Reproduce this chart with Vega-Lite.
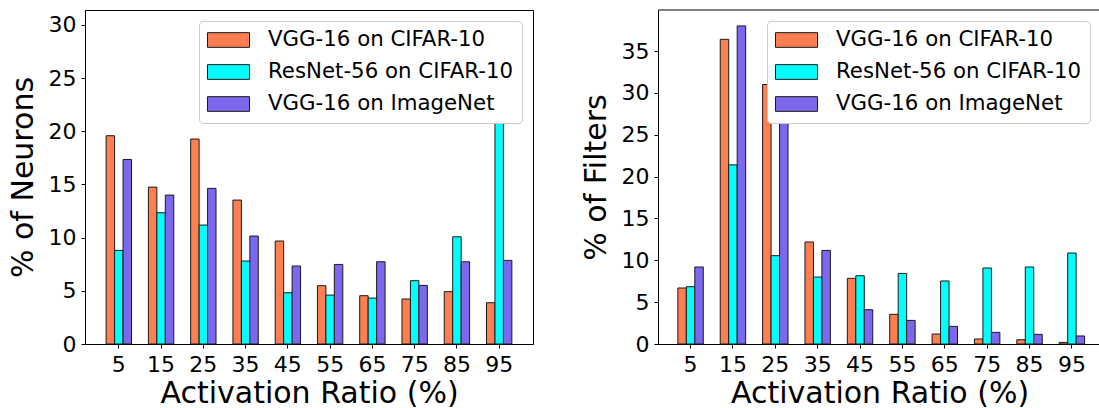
{
  "$schema": "https://vega.github.io/schema/vega-lite/v6.json",
  "padding": {"left": 7, "top": 9, "right": 0, "bottom": 0},
  "spacing": 47,
  "background": "white",
  "datasets": {
    "neurons": [
      {"ratio": 5, "model": "VGG-16 on CIFAR-10", "value": 19.58},
      {"ratio": 5, "model": "ResNet-56 on CIFAR-10", "value": 8.8},
      {"ratio": 5, "model": "VGG-16 on ImageNet", "value": 17.35},
      {"ratio": 15, "model": "VGG-16 on CIFAR-10", "value": 14.75},
      {"ratio": 15, "model": "ResNet-56 on CIFAR-10", "value": 12.34},
      {"ratio": 15, "model": "VGG-16 on ImageNet", "value": 14.0},
      {"ratio": 25, "model": "VGG-16 on CIFAR-10", "value": 19.27},
      {"ratio": 25, "model": "ResNet-56 on CIFAR-10", "value": 11.18},
      {"ratio": 25, "model": "VGG-16 on ImageNet", "value": 14.63},
      {"ratio": 35, "model": "VGG-16 on CIFAR-10", "value": 13.53},
      {"ratio": 35, "model": "ResNet-56 on CIFAR-10", "value": 7.8},
      {"ratio": 35, "model": "VGG-16 on ImageNet", "value": 10.15},
      {"ratio": 45, "model": "VGG-16 on CIFAR-10", "value": 9.68},
      {"ratio": 45, "model": "ResNet-56 on CIFAR-10", "value": 4.82},
      {"ratio": 45, "model": "VGG-16 on ImageNet", "value": 7.33},
      {"ratio": 55, "model": "VGG-16 on CIFAR-10", "value": 5.48},
      {"ratio": 55, "model": "ResNet-56 on CIFAR-10", "value": 4.6},
      {"ratio": 55, "model": "VGG-16 on ImageNet", "value": 7.48},
      {"ratio": 65, "model": "VGG-16 on CIFAR-10", "value": 4.54},
      {"ratio": 65, "model": "ResNet-56 on CIFAR-10", "value": 4.32},
      {"ratio": 65, "model": "VGG-16 on ImageNet", "value": 7.73},
      {"ratio": 75, "model": "VGG-16 on CIFAR-10", "value": 4.23},
      {"ratio": 75, "model": "ResNet-56 on CIFAR-10", "value": 5.95},
      {"ratio": 75, "model": "VGG-16 on ImageNet", "value": 5.51},
      {"ratio": 85, "model": "VGG-16 on CIFAR-10", "value": 4.92},
      {"ratio": 85, "model": "ResNet-56 on CIFAR-10", "value": 10.08},
      {"ratio": 85, "model": "VGG-16 on ImageNet", "value": 7.73},
      {"ratio": 95, "model": "VGG-16 on CIFAR-10", "value": 3.88},
      {"ratio": 95, "model": "ResNet-56 on CIFAR-10", "value": 29.9},
      {"ratio": 95, "model": "VGG-16 on ImageNet", "value": 7.86}
    ],
    "filters": [
      {"ratio": 5, "model": "VGG-16 on CIFAR-10", "value": 6.69},
      {"ratio": 5, "model": "ResNet-56 on CIFAR-10", "value": 6.85},
      {"ratio": 5, "model": "VGG-16 on ImageNet", "value": 9.2},
      {"ratio": 15, "model": "VGG-16 on CIFAR-10", "value": 36.4},
      {"ratio": 15, "model": "ResNet-56 on CIFAR-10", "value": 21.4},
      {"ratio": 15, "model": "VGG-16 on ImageNet", "value": 38.0},
      {"ratio": 25, "model": "VGG-16 on CIFAR-10", "value": 31.0},
      {"ratio": 25, "model": "ResNet-56 on CIFAR-10", "value": 10.55},
      {"ratio": 25, "model": "VGG-16 on ImageNet", "value": 29.1},
      {"ratio": 35, "model": "VGG-16 on CIFAR-10", "value": 12.19},
      {"ratio": 35, "model": "ResNet-56 on CIFAR-10", "value": 8.0},
      {"ratio": 35, "model": "VGG-16 on ImageNet", "value": 11.18},
      {"ratio": 45, "model": "VGG-16 on CIFAR-10", "value": 7.84},
      {"ratio": 45, "model": "ResNet-56 on CIFAR-10", "value": 8.16},
      {"ratio": 45, "model": "VGG-16 on ImageNet", "value": 4.1},
      {"ratio": 55, "model": "VGG-16 on CIFAR-10", "value": 3.54},
      {"ratio": 55, "model": "ResNet-56 on CIFAR-10", "value": 8.43},
      {"ratio": 55, "model": "VGG-16 on ImageNet", "value": 2.82},
      {"ratio": 65, "model": "VGG-16 on CIFAR-10", "value": 1.19},
      {"ratio": 65, "model": "ResNet-56 on CIFAR-10", "value": 7.53},
      {"ratio": 65, "model": "VGG-16 on ImageNet", "value": 2.1},
      {"ratio": 75, "model": "VGG-16 on CIFAR-10", "value": 0.6},
      {"ratio": 75, "model": "ResNet-56 on CIFAR-10", "value": 9.08},
      {"ratio": 75, "model": "VGG-16 on ImageNet", "value": 1.39},
      {"ratio": 85, "model": "VGG-16 on CIFAR-10", "value": 0.51},
      {"ratio": 85, "model": "ResNet-56 on CIFAR-10", "value": 9.2},
      {"ratio": 85, "model": "VGG-16 on ImageNet", "value": 1.15},
      {"ratio": 95, "model": "VGG-16 on CIFAR-10", "value": 0.19},
      {"ratio": 95, "model": "ResNet-56 on CIFAR-10", "value": 10.87},
      {"ratio": 95, "model": "VGG-16 on ImageNet", "value": 0.96}
    ]
  },
  "hconcat": [
    {
      "data": {"name": "neurons"},
      "width": 448,
      "height": 334,
      "mark": {"type": "bar", "stroke": "#1a1a1a", "strokeWidth": 1},
      "encoding": {
        "x": {"field": "ratio", "type": "ordinal", "title": "Activation Ratio (%)",
              "scale": {"paddingInner": 0.4, "paddingOuter": 0.5}},
        "xOffset": {"field": "model", "type": "nominal",
                    "sort": ["VGG-16 on CIFAR-10", "ResNet-56 on CIFAR-10", "VGG-16 on ImageNet"]},
        "y": {"field": "value", "type": "quantitative", "title": "% of Neurons",
              "scale": {"domain": [0, 31.4], "nice": false, "zero": true},
              "axis": {"values": [0, 5, 10, 15, 20, 25, 30]}},
        "color": {"field": "model", "type": "nominal",
                  "scale": {"domain": ["VGG-16 on CIFAR-10", "ResNet-56 on CIFAR-10", "VGG-16 on ImageNet"],
                            "range": ["#FF7F50", "#00FFFF", "#7B68EE"]},
                  "legend": {"title": null}}
      }
    },
    {
      "width": 443,
      "height": 334,
      "view": {"stroke": null},
      "layer": [
        {
          "data": {"name": "filters"},
          "mark": {"type": "bar", "stroke": "#1a1a1a", "strokeWidth": 1},
          "encoding": {
            "x": {"field": "ratio", "type": "ordinal", "title": "Activation Ratio (%)",
                  "scale": {"paddingInner": 0.4, "paddingOuter": 0.4276, "align": 0.548}},
            "xOffset": {"field": "model", "type": "nominal",
                        "sort": ["VGG-16 on CIFAR-10", "ResNet-56 on CIFAR-10", "VGG-16 on ImageNet"]},
            "y": {"field": "value", "type": "quantitative", "title": "% of Filters",
                  "scale": {"domain": [0, 39.9], "nice": false, "zero": true},
                  "axis": {"values": [0, 5, 10, 15, 20, 25, 30, 35]}},
            "color": {"field": "model", "type": "nominal",
                      "scale": {"domain": ["VGG-16 on CIFAR-10", "ResNet-56 on CIFAR-10", "VGG-16 on ImageNet"],
                                "range": ["#FF7F50", "#00FFFF", "#7B68EE"]},
                      "legend": {"title": null}}
          }
        },
        {
          "data": {"values": [{}]},
          "mark": {"type": "rule", "color": "black", "strokeWidth": 1},
          "encoding": {"y": {"datum": 39.9}}
        }
      ]
    }
  ],
  "resolve": {"scale": {"color": "independent", "x": "independent", "y": "independent", "xOffset": "independent"}, "legend": {"color": "independent"}},
  "config": {
    "view": {"stroke": "black", "strokeWidth": 1},
    "font": "DejaVu Sans",
    "axis": {
      "labelFont": "DejaVu Sans", "labelFontSize": 22, "labelColor": "black",
      "titleFont": "DejaVu Sans", "titleFontSize": 30, "titleFontWeight": "normal", "titleColor": "black",
      "domainColor": "black", "domainWidth": 1, "tickColor": "black", "tickWidth": 1, "tickSize": 4,
      "grid": false, "labelPadding": 5, "titlePadding": 10
    },
    "axisX": {"labelAngle": 0, "labelPadding": 6, "titlePadding": 3},
    "legend": {
      "orient": "top-right", "offset": 11, "padding": 8,
      "strokeColor": "#cccccc", "fillColor": "white", "cornerRadius": 4,
      "labelFont": "DejaVu Sans", "labelFontSize": 21.3, "labelColor": "black",
      "symbolType": "M-1,-0.7H3V0.7H-1Z", "symbolSize": 441,
      "symbolStrokeColor": "#1a1a1a", "symbolStrokeWidth": 1, "symbolOpacity": 1,
      "labelOffset": 39, "rowPadding": 10, "labelLimit": 400
    }
  }
}
